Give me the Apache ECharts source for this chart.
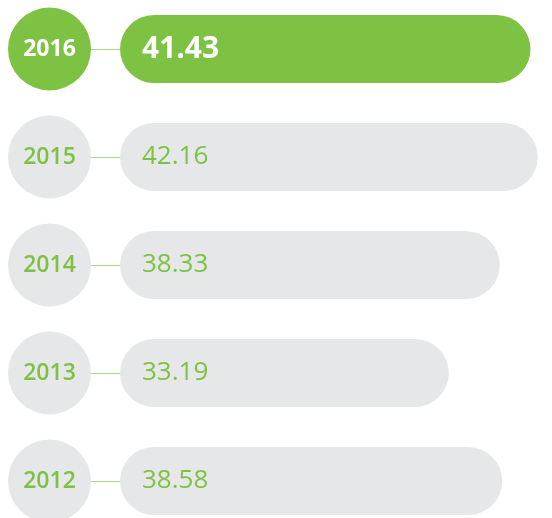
<!DOCTYPE html>
<html>
<head>
<meta charset="utf-8">
<script src="https://cdn.jsdelivr.net/npm/echarts@6/dist/echarts.min.js"></script>
<style>
  html, body { margin: 0; padding: 0; background: #fff; }
  #chart { width: 552px; height: 518px; }
</style>
</head>
<body>
<div id="chart"></div>
<script>
var years = ['2016', '2015', '2014', '2013', '2012'];
var values = [41.43, 42.16, 38.33, 33.19, 38.58];

var green = '#7DC242';
var grey = '#E6E7E9';
var font = '"Open Sans", sans-serif';

var chart = echarts.init(document.getElementById('chart'));

// first year is the highlighted one
var barData = values.map(function(v, i) {
  var current = i === 0;
  return {
    value: v,
    itemStyle: { color: current ? green : grey },
    label: {
      color: current ? '#fff' : green,
      fontSize: current ? 30 : 26,
      fontWeight: current ? 'bold' : 'normal'
    }
  };
});

chart.setOption({
  animation: false,
  grid: {
    left: 120, width: 432, top: -5, height: 540,
    outerBoundsMode: 'none',
    containLabel: false
  },
  xAxis: {
    type: 'value',
    min: 0,
    max: 43.6,
    show: false
  },
  yAxis: {
    type: 'category',
    data: years,
    inverse: true,
    axisLine: { show: false },
    splitLine: { show: false },
    axisTick: {
      show: true,
      alignWithLabel: true,
      length: 29,
      lineStyle: { color: '#ADD68F', width: 1 }
    },
    axisLabel: {
      margin: 29,
      formatter: function(v, i) {
        return (i === 0 ? '{on|' : '{off|') + v + '}';
      },
      rich: {
        on: {
          width: 83, height: 83, lineHeight: 83,
          borderRadius: 41.5,
          backgroundColor: green,
          color: '#fff',
          align: 'center',
          fontFamily: font,
          fontWeight: 'bold',
          fontSize: 23
        },
        off: {
          width: 83, height: 83, lineHeight: 83,
          borderRadius: 41.5,
          backgroundColor: grey,
          color: green,
          align: 'center',
          fontFamily: font,
          fontWeight: 600,
          fontSize: 23
        }
      }
    }
  },
  series: [{
    type: 'bar',
    barWidth: 68,
    data: barData,
    itemStyle: { borderRadius: 34 },
    label: {
      show: true,
      position: 'insideLeft',
      distance: 22,
      fontFamily: font
    }
  }]
});
</script>
</body>
</html>
